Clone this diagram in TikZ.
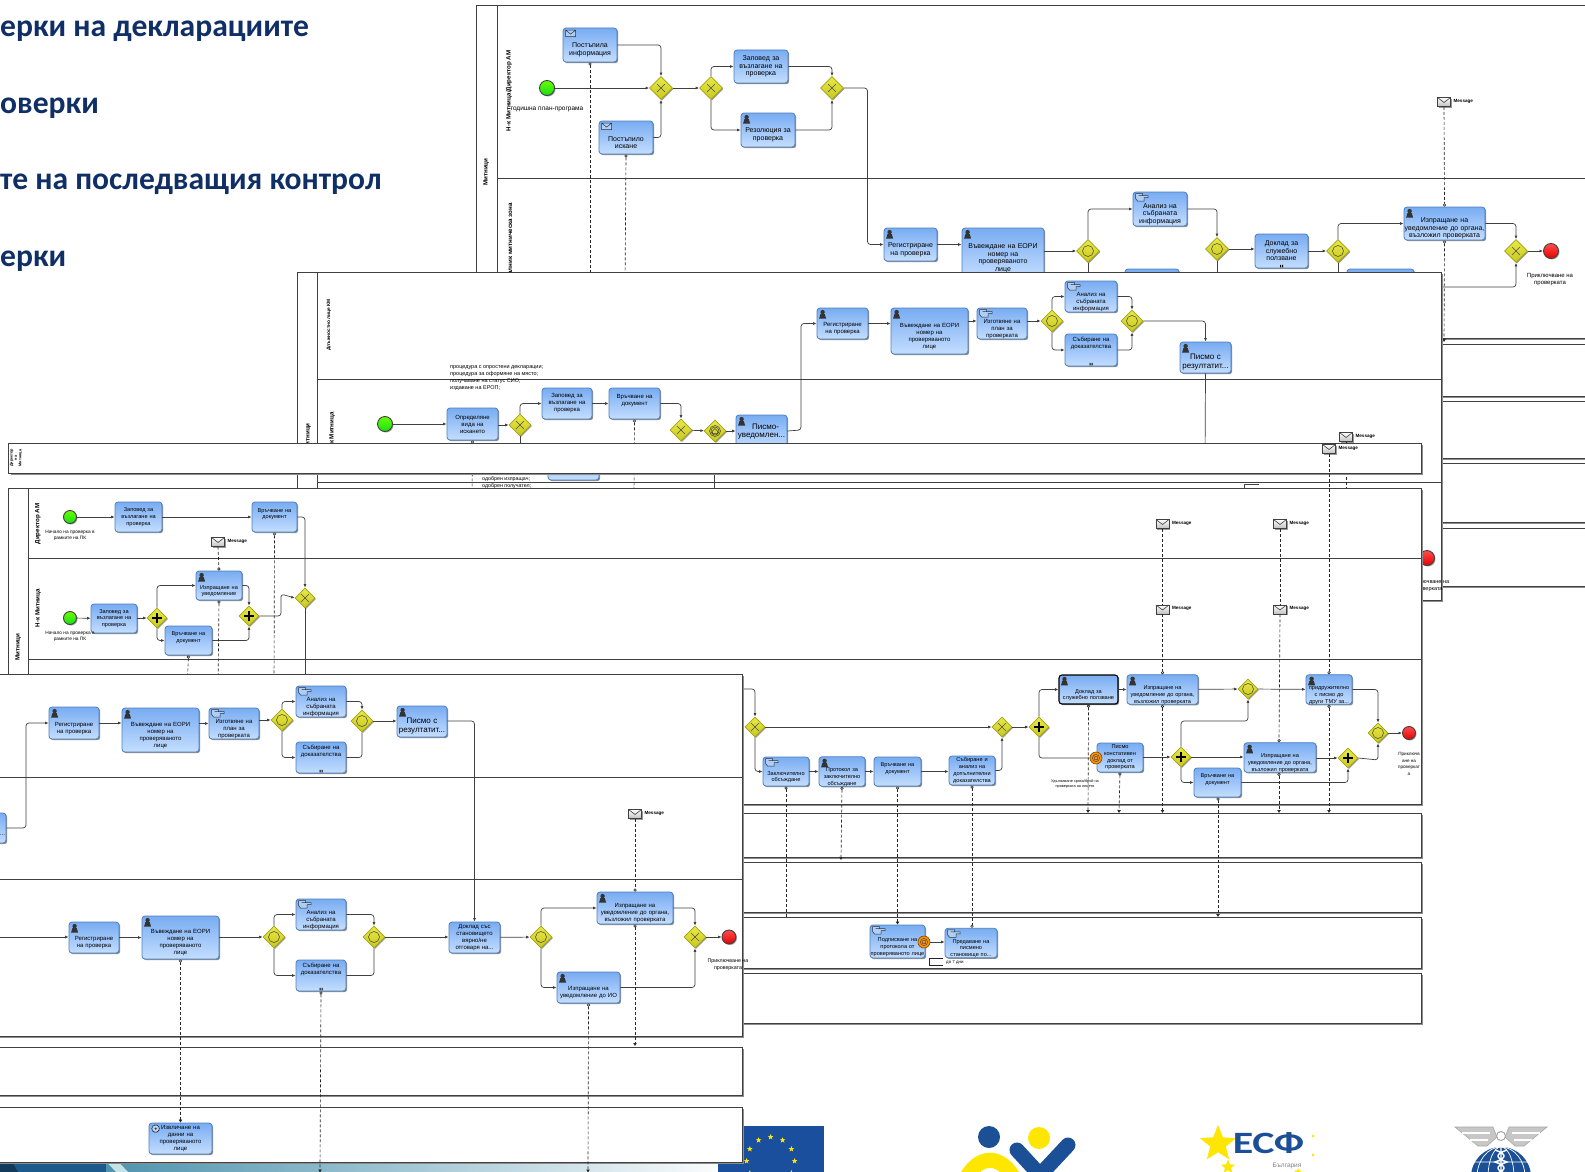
\documentclass[tikz,border=0pt]{standalone}
\usepackage{fontspec}
\setmainfont{Liberation Sans}
\newfontfamily\ttlfont{Carlito}
\usetikzlibrary{shapes.geometric,arrows.meta,shadows,calc}
\definecolor{taskT}{HTML}{78ACF2}
\definecolor{taskB}{HTML}{C4DEFF}
\definecolor{taskL}{HTML}{4E7FBE}
\definecolor{gwT}{HTML}{E9E945}
\definecolor{gwB}{HTML}{C8C81E}
\definecolor{gwL}{HTML}{A3A312}
\definecolor{ln}{HTML}{404040}
\definecolor{navy}{HTML}{0F2F66}
\definecolor{eublue}{HTML}{1A4F9E}
\definecolor{logoy}{HTML}{FFE600}
\definecolor{logob}{HTML}{1B4F96}
\definecolor{stripd}{HTML}{1D5A8C}
\definecolor{stripm}{HTML}{4E93AE}
\definecolor{stripl}{HTML}{C4E2E8}
\newcommand\tf{\fontsize{7}{7.6}\selectfont}
\newcommand\gs{23}
\newcommand\lo{\rule{0pt}{15pt}}
\newcommand\bl{\mbox{}}
\tikzset{
  x=1pt,y=-1pt,
  poolbox/.style={draw=ln,fill=white,line width=.8pt,general shadow={fill=black!45,shadow xshift=2pt,shadow yshift=-2pt}},
  lanel/.style={draw=ln,line width=.7pt},
  taskbox/.style={rectangle,rounded corners=3pt,draw=taskL,line width=.8pt,top color=taskT,bottom color=taskB,inner sep=0pt,align=center,text=black,font=\tf,general shadow={fill=black!45,shadow xshift=1.2pt,shadow yshift=-1.2pt}},
  darkbox/.style={draw=black,line width=1.1pt},
  bigtxt/.style={font=\fontsize{8}{8.8}\selectfont},
  gwbox/.style={diamond,aspect=1,inner sep=0pt,draw=gwL,line width=.7pt,top color=gwT,bottom color=gwB,general shadow={fill=black!40,shadow xshift=1pt,shadow yshift=-1pt}},
  startev/.style={circle,inner sep=0pt,draw=ln,line width=.9pt,top color=green!60!yellow,bottom color=green!85!black!90,general shadow={fill=black!35,shadow xshift=1pt,shadow yshift=-1pt}},
  endev/.style={circle,inner sep=0pt,draw=ln,line width=.9pt,top color=red!70,bottom color=red!90!black,general shadow={fill=black!35,shadow xshift=1pt,shadow yshift=-1pt}},
  timerev/.style={circle,inner sep=0pt,minimum size=12pt,draw=orange!50!black,line width=.6pt,fill=orange!85!yellow},
  flow/.style={draw=ln,line width=.7pt,rounded corners=3pt,arrows={-Latex[length=3.5pt,width=3pt]}},
  flowplain/.style={draw=ln,line width=.7pt,rounded corners=3pt},
  mflow/.style={draw=black!85,line width=.65pt,dash pattern=on 3pt off 2pt},
  mfa/.style={mflow,arrows={Circle[open,fill=white,length=3.2pt,width=3.2pt]-Latex[length=3pt,width=4pt]}},
  mfb/.style={mflow,arrows={Circle[open,fill=white,length=3.2pt,width=3.2pt]-}},
  mfc/.style={mflow,arrows={-Circle[open,fill=white,length=3.2pt,width=3.2pt]}},
  lanetxt/.style={rotate=90,font=\fontsize{6.2}{6.6}\selectfont\bfseries,inner sep=0pt,align=center},
  smalltxt/.style={font=\fontsize{6}{7}\selectfont,inner sep=0pt,align=center,text=black},
  tinytxt/.style={font=\fontsize{3.8}{5}\selectfont,inner sep=0pt,align=center,text=black},
  msglabel/.style={font=\fontsize{4.6}{5}\selectfont\bfseries,inner sep=0pt,anchor=west},
  envbox/.style={rectangle,inner sep=0pt,minimum width=13pt,minimum height=9pt,draw=ln,line width=.7pt,top color=white,bottom color=black!25,general shadow={fill=black!40,shadow xshift=1pt,shadow yshift=-1pt}},
  titletxt/.style={font=\ttlfont\bfseries\fontsize{31.6}{33}\selectfont,text=navy,inner sep=0pt,anchor=west},
  starsm/.style={star,star points=5,star point ratio=2.4,fill=logoy,inner sep=0pt,minimum size=6pt},
}
\newcommand\tsk[7][]{%
  \pgfmathsetmacro\wa{#5-#3}\pgfmathsetmacro\ha{#6-#4}\pgfmathsetmacro\xa{(#3+#5)/2}\pgfmathsetmacro\ya{(#4+#6)/2}%
  \node[taskbox,#1,minimum width=\wa pt,minimum height=\ha pt,text width=\wa pt] (#2) at (\xa,\ya) {#7};}
\newcommand\gwx[3]{\node[gwbox,minimum size=\gs pt] (#1) at (#2,#3) {};
  \draw[black!70,line width=.5pt,shift={(#1)}] (-4,-4)--(4,4) (-4,4)--(4,-4);}
\newcommand\gwp[3]{\node[gwbox,minimum size=\gs pt] (#1) at (#2,#3) {};
  \draw[black,line width=1.4pt,shift={(#1)}] (-5,0)--(5,0) (0,-5)--(0,5);}
\newcommand\gwo[3]{\node[gwbox,minimum size=\gs pt] (#1) at (#2,#3) {};
  \draw[black!75,line width=.5pt,shift={(#1)}] (0,0) circle[radius=5.5pt];}
\newcommand\gwe[3]{\node[gwbox,minimum size=\gs pt] (#1) at (#2,#3) {};
  \draw[black!75,line width=.5pt,shift={(#1)}] (0,0) circle[radius=5.5pt] (0,0) circle[radius=4pt] (-2.5,0)--(0,-2.5)--(2.5,0)--(2.5,2.5)--(-2.5,2.5)--cycle;}
\newcommand\usr[1]{\fill[black!80,shift={(#1.north west)}] (6,4.5) circle[radius=2.2pt] (2.5,11)--(3.8,6.5)--(8.2,6.5)--(9.5,11)--cycle;}
\newcommand\envi[1]{\draw[black!80,line width=.5pt,fill=taskT!60!white,shift={(#1.north west)}] (3,2.5) rectangle (13,9) (3,2.5)--(8,6.5)--(13,2.5);}
\newcommand\hnd[1]{\draw[black!80,line width=.55pt,fill=taskT!60!white,shift={(#1.north west)}] (3,2)--(10,2)--(10,4)--(15.5,4)--(15.5,6)--(11.5,6)--(11.5,9.5)--(5,9.5)--(3,7)--cycle (6,4)--(15.5,4);}
\newcommand\gr[1]{\draw[black!80,line width=.9pt,dash pattern=on 1pt off .6pt,fill=taskT!50!white,shift={(#1.north west)}] (7,6) circle[radius=3.8pt];
  \fill[black!80,shift={(#1.north west)}] (7,6) circle[radius=1.2pt];}
\newcommand\mrk[1]{\fill[black,shift={(#1.south)}] (-1.5,-3.5) rectangle (-.5,-1) (.5,-3.5) rectangle (1.5,-1);}
\newcommand\msg[3]{\node[envbox] (#1) at (#2,#3) {};
  \draw[ln,line width=.6pt,shift={(#1)}] (-6.5,-4.5)--(0,.5)--(6.5,-4.5);
  \node[msglabel] (#1t) at ($(#1.east)+(2.5,-1)$) {Message};}
\newcommand\tmr[3]{\node[timerev] (#1) at (#2,#3) {};
  \draw[black!70,line width=.5pt,shift={(#1)}] (0,0) circle[radius=3.6pt] (-1.5,-1.5) rectangle (1.5,1.5);}
\begin{document}
\begin{tikzpicture}
\path[use as bounding box,clip] (0,0) rectangle (1585,1172);
\fill[white] (0,0) rectangle (1585,1172);

% slide strip and logos
\shade[left color=stripm,middle color=stripl,right color=white] (105,1155) rectangle (735,1172);
\fill[stripd] (0,1155) rectangle (106,1172);
\fill[black!35!stripd] (0,1155)--(8,1155)--(18,1172)--(0,1172)--cycle;
\fill[stripl] (100,1155)--(112,1155)--(128,1172)--(116,1172)--cycle;
\fill[eublue] (718,1126) rectangle (824,1180);
\foreach \a [count=\i] in {0,30,...,330}{\node[starsm] (fs\i) at ($(770.6,1161)+(\a:24)$) {};}
\fill[logob] (989,1137) circle[radius=11pt];
\fill[logoy] (1039,1138) circle[radius=11pt];
\draw[line width=15pt,line cap=round,line join=round,draw=logob] (1017,1150)--(1040,1175)--(1068,1145);
\draw[line width=15pt,draw=logoy] (964,1182) .. controls (978,1153) and (1002,1153) .. (1016,1182);
\node[star,star points=5,star point ratio=2.3,fill=logoy,inner sep=0pt,minimum size=38pt] (esfstar) at (1218,1144) {};
\node[star,star points=5,star point ratio=2.3,fill=logoy,inner sep=0pt,minimum size=15pt] (esfstar2) at (1228,1167) {};
\fill[logoy] (1313,1136) circle[radius=1.5pt] (1313,1155) circle[radius=1.5pt];
\node[star,star points=5,star point ratio=2.3,fill=logoy,inner sep=0pt,minimum size=8pt] (esfstar3) at (1298,1172) {};
\node[font=\ttlfont\bfseries\fontsize{31}{31}\selectfont,text=logob,inner sep=0pt] (esf) at (1268.5,1143) {\scalebox{1.35}[1]{ЕСФ}};
\node[font=\fontsize{6.5}{7}\selectfont,text=black!50,inner sep=0pt] (esfb) at (1287,1166) {България};
\filldraw[fill=black!22,draw=black!35,line width=.6pt] (1455,1127)--(1493,1127)--(1497,1137)--(1487,1146)--(1478,1146)--cycle;
\filldraw[fill=black!22,draw=black!35,line width=.6pt] (1547,1127)--(1509,1127)--(1505,1137)--(1515,1146)--(1524,1146)--cycle;
\draw[white,line width=1.3pt] (1462,1133)--(1490,1133) (1470,1140)--(1488,1140) (1540,1133)--(1512,1133) (1532,1140)--(1514,1140);
\draw[black!35,line width=1pt,fill=white] (1501,1136) circle[radius=4.5pt];
\fill[logob] (1501,1177) circle[radius=30pt];
\draw[white,line width=.7pt] (1472,1162)--(1530,1162) (1501,1177) ellipse[x radius=13pt,y radius=30pt] (1501,1177) ellipse[x radius=24pt,y radius=30pt];
\draw[white,line width=1.4pt] (1501,1141)--(1501,1172) (1495,1150) .. controls (1507,1154) and (1507,1158) .. (1495,1162) .. controls (1507,1166) and (1507,1170) .. (1495,1174) (1507,1150) .. controls (1495,1154) and (1495,1158) .. (1507,1162) .. controls (1495,1166) and (1495,1170) .. (1507,1174);

% title lines
\node[titletxt] (h1) at (0,31) {ерки на декларациите};
\node[titletxt] (h2) at (0,108) {оверки};
\node[titletxt] (h3) at (0,184) {те на последващия контрол};
\node[titletxt] (h4) at (0,261) {ерки};

%%%%%%%%%%%%%%%% window A
\path[poolbox] (476.5,5) rectangle (1640,338);
\path[poolbox] (476.5,344) rectangle (1640,396);
\path[poolbox] (476.5,401) rectangle (1640,458);
\path[poolbox] (476.5,463) rectangle (1640,522);
\path[poolbox] (476.5,528) rectangle (1640,586);
\draw[lanel] (497.5,5)--(497.5,338) (497.5,178)--(1640,178);
\node[lanetxt] (al1) at (509,91) {Н-к Митница/Директор АМ};
\node[lanetxt] (al0) at (486,172) {Митници};
\node[lanetxt,anchor=east] (al2) at (510,203) {Началник митническа зона};
\renewcommand\tf{\fontsize{7}{7.6}\selectfont}
\renewcommand\gs{23}
\tsk{at1}{563}{28}{617}{62}{\lo Постъпила\\информация}\envi{at1}
\tsk{at2}{599}{121}{653}{154}{\lo Постъпило\\искане}\envi{at2}
\tsk{at3}{734}{50}{788}{83}{Заповед за\\възлагане на\\проверка}
\tsk{at4}{741}{113}{795}{147}{\lo Резолюция за\\проверка}\usr{at4}
\tsk{at5}{884}{228}{937}{261}{\lo Регистриране\\на проверка}\usr{at5}
\tsk{at6}{962}{228}{1044}{278}{\lo Въвеждане на ЕОРИ\\номер на\\проверяваното\\лице}\usr{at6}
\tsk{at7}{1133}{192}{1187}{226}{\lo Анализ на\\събраната\\информация}\hnd{at7}
\tsk{at8}{1255}{234}{1308}{268}{Доклад за\\служебно\\ползване}\mrk{at8}
\tsk{at9}{1404}{207}{1485}{240}{\lo Изпращане на\\уведомление до органа,\\възложил проверката}\usr{at9}
\tsk{at10}{1125}{269}{1179}{300}{}
\tsk{at11}{1347}{269}{1414}{300}{}
\node[startev,minimum size=15pt] (as) at (547,88) {};
\node[smalltxt,font=\fontsize{6.5}{7}\selectfont] (ast) at (547,109) {годишна план-програма};
\gwx{ag1}{661}{88}\gwx{ag2}{711}{88}\gwx{ag3}{832}{88}
\gwo{ag4}{1088}{251}\gwo{ag5}{1217}{249}\gwo{ag6}{1338}{251}\gwx{ag7}{1516}{251}
\node[endev,minimum size=15pt] (ae) at (1551,251) {};
\node[smalltxt] (aet) at (1550,280) {Приключване на\\проверката};
\msg{am}{1444}{102}
\coordinate (aa1) at (590,290);\coordinate (aa2) at (625,290);
\coordinate (aa3) at (1444,342);\coordinate (aa4) at (1430,287);
\draw[flow] (as)--(ag1);
\draw[flow] (at1.east)-|(ag1.north);
\draw[flow] (at2.east)-|(ag1.south);
\draw[flow] (ag1)--(ag2);
\draw[flow] (ag2.north)|-(at3.west);
\draw[flow] (ag2.south)|-(at4.west);
\draw[flow] (at3.east)-|(ag3.north);
\draw[flow] (at4.east)-|(ag3.south);
\draw[flow] (ag3.east)--(867.5,88)|-(at5.west);
\draw[flow] (at5)--(at6.west|-at5);
\draw[flow] (at6.east|-ag4)--(ag4.west);
\draw[flow] (ag4.north)|-(at7.west);
\draw[flow] (at7.east)-|(ag5.north);
\draw[flow] (ag5)--(at8.west|-ag5);
\draw[flow] (at8.east|-ag6)--(ag6.west);
\draw[flow] (ag6.north)|-(at9.west);
\draw[flow] (at9.east)-|(ag7.north);
\draw[flow] (ag7)--(ae);
\draw[flow] (aa4)-|(ag7.south);
\draw[flowplain] (ag4.south)--++(0,20) (ag5.south)--++(0,20) (ag6.south)--++(0,20);
\draw[mfb] (at1.south)--(aa1);
\draw[mfb] (at2.south)--(aa2);
\draw[mfc] (am.south)--(at9.north);
\draw[mfa] (at9.south)--(aa3);

%%%%%%%%%%%%%%%% window B
\path[poolbox] (297,272) rectangle (1441,600);
\draw[lanel] (317.5,272)--(317.5,600) (317.5,379)--(1441,379) (317.5,482)--(1441,482) (714,470)--(714,490) (1244,488)--(1244,484)--(1259,484);
\node[lanetxt,font=\fontsize{4.8}{5}\selectfont\bfseries] (bl1) at (329,325) {Длъжностно лице КМ};
\node[lanetxt,anchor=east] (bl2) at (332,412) {Н-к Митница};
\node[lanetxt,anchor=east] (bl0) at (308,423) {Митници};
\renewcommand\tf{\fontsize{6}{7}\selectfont}
\renewcommand\gs{22}
\node[smalltxt,anchor=north west,align=left,font=\fontsize{5.5}{7.1}\selectfont] (bnote) at (450,365) {процедура с опростени декларации;\\процедура за оформяне на място;\\получаване на статус СИО;\\издаване на ЕРОП;};
\node[smalltxt,anchor=west,font=\fontsize{5.3}{6}\selectfont] (bn1) at (482,479) {одобрен изпращач;};
\node[smalltxt,anchor=west,font=\fontsize{5.3}{6}\selectfont] (bn2) at (482,486.5) {одобрен получател;};
\tsk{bt1}{447}{408}{498}{440}{Определяне\\вида на\\искането}
\tsk{bt2}{542}{388}{592}{419}{Заповед за\\възлагане на\\проверка}
\tsk{bt3}{609}{388}{660}{419}{Връчване на\\документ\\\bl}
\tsk[bigtxt]{bt4}{736}{415}{787}{448}{\hspace*{8pt}Писмо-\\уведомлен...}\usr{bt4}
\tsk{bt5}{817}{308}{868}{339}{\lo Регистриране\\на проверка}\usr{bt5}
\tsk{bt6}{891}{308}{968}{354}{\lo Въвеждане на ЕОРИ\\номер на\\проверяваното\\лице}\usr{bt6}
\tsk{bt7}{977}{308}{1027}{339}{\lo Изготвяне на\\план за\\проверката}\hnd{bt7}
\tsk{bt8}{1065}{281}{1117}{312}{\lo Анализ на\\събраната\\информация}\hnd{bt8}
\tsk{bt9}{1065}{334}{1117}{366}{Събиране на\\доказателства\\\bl\\\bl}\mrk{bt9}
\tsk[bigtxt]{bt10}{1180}{342}{1231}{373}{\lo Писмо с\\резултатит...}\usr{bt10}
\tsk{bt11}{548}{450}{599}{480}{}
\node[startev,minimum size=15pt] (bs) at (385,424) {};
\gwx{bg1}{520}{425}\gwx{bg2}{681}{430}\gwe{bg3}{715}{431}
\gwo{bg4}{1052}{321}\gwo{bg5}{1132}{321}
\node[endev,minimum size=15pt] (be) at (1427,558) {};
\node[smalltxt,font=\fontsize{5.5}{7}\selectfont] (bet) at (1428,585.5) {Приключване на\\проверката};
\msg{bm}{1346}{437}
\coordinate (bb1) at (472,495);\coordinate (bb2) at (634,495);\coordinate (bb3) at (1346,490);
\coordinate (bb4) at (1205,460);\coordinate (bb5) at (520,452);
\draw[flow] (bs)--(bt1.west|-bs);
\draw[flow] (bt1.east|-bg1)--(bg1.west);
\draw[flow] (bg1.north)|-(bt2.west);
\draw[flowplain] (bg1.south)--(bb5);
\draw[flow] (bt2)--(bt3);
\draw[flow] (bt3.east)-|(bg2.north);
\draw[flow] (bg2)--(bg3);
\draw[flow] (bg3)--(bt4.west|-bg3);
\draw[flow] (bt4.east|-bg3)--(801,430)|-(bt5.west);
\draw[flow] (bt5)--(bt6.west|-bt5);
\draw[flow] (bt6.east|-bg4)--(bt7.west|-bg4);
\draw[flow] (bt7.east|-bg4)--(bg4.west);
\draw[flow] (bg4.north)|-(bt8.west);
\draw[flow] (bg4.south)|-(bt9.west);
\draw[flow] (bt8.east)-|(bg5.north);
\draw[flow] (bt9.east)-|(bg5.south);
\draw[flow] (bg5.east)-|(bt10.north);
\draw[flowplain] (bt10.south)--(bb4);
\draw[mfb] (bt1.south)--(bb1);
\draw[mfb] (bt3.south)--(bb2);
\draw[mflow] (bm.south)--(bb3);

%%%%%%%%%%%%%%%% window C
\path[poolbox] (8.7,443) rectangle (1421,473);
\node[lanetxt,font=\fontsize{3.8}{4.4}\selectfont\bfseries] (cl) at (16,458) {Директор\\на\\Митница};
\msg{cm}{1329}{449}

%%%%%%%%%%%%%%%% window D
\path[poolbox] (8.7,488) rectangle (1421,804);
\path[poolbox] (8.7,813) rectangle (1421,857);
\path[poolbox] (8.7,862) rectangle (1421,912);
\path[poolbox] (8.7,917) rectangle (1421,968);
\path[poolbox] (8.7,973) rectangle (1421,1023);
\draw[lanel] (28,488)--(28,804) (28,558)--(1421,558) (28,659)--(1421,659);
\node[lanetxt] (dl1) at (38,524) {Директор АМ};
\node[lanetxt] (dl2) at (38,608) {Н-к Митница};
\node[lanetxt] (dl0) at (18,647) {Митници};
\renewcommand\tf{\fontsize{5.6}{6.7}\selectfont}
\renewcommand\gs{20}
\tsk{dt1}{115}{502}{162}{532}{Заповед за\\възлагане на\\проверка}
\tsk{dt2}{252}{502}{297}{532}{Връчване на\\документ\\\bl}
\tsk{dt3}{91}{604}{137}{633}{Заповед за\\възлагане на\\проверка}
\tsk{dt4}{196}{571}{242}{600}{\lo Изпращане на\\уведомление}\usr{dt4}
\tsk{dt5}{165}{626}{212}{655}{Връчване на\\документ\\\bl}
\tsk{dt6}{763}{757}{809}{786}{\lo Заключително\\обсъждане}\hnd{dt6}
\tsk{dt7}{819}{757}{865}{786}{\lo Протокол за\\заключително\\обсъждане}\usr{dt7}
\tsk{dt8}{874}{757}{921}{786}{Връчване на\\документ\\\bl}
\tsk{dt9}{949}{756}{995}{785}{Събиране и\\анализ на\\допълнителни\\доказателства}
\tsk[darkbox]{dt10}{1059}{675}{1118}{704}{\lo Доклад за\\служебно ползване}\usr{dt10}
\tsk{dt11}{1127}{675}{1198}{704}{\lo Изпращане на\\уведомление до органа,\\възложил проверката}\usr{dt11}
\tsk{dt12}{1097}{743}{1143}{772}{Писмо\\констативен\\доклад от\\проверката}
\tsk{dt13}{1244}{743}{1316}{772}{\lo Изпращане на\\уведомление до органа,\\възложил проверката}\usr{dt13}
\tsk{dt14}{1194}{768}{1241}{797}{Връчване на\\документ\\\bl}
\tsk{dt15}{1306}{675}{1352}{704}{\lo придружително\\с писмо до\\други ТМУ за...}\usr{dt15}
\tsk{dt16}{870}{925}{925}{958}{\lo Подписване на\\протокола от\\проверяваното лице}\hnd{dt16}
\tsk{dt17}{945}{929}{997}{957}{\lo Предаване на\\писмено\\становище по...}\hnd{dt17}
\node[startev,minimum size=13pt] (ds1) at (70,517) {};
\node[startev,minimum size=13pt] (ds2) at (70,618) {};
\node[tinytxt,font=\fontsize{4.8}{6.6}\selectfont] (ds1t) at (70,535.5) {Начало на проверка в\\рамките на ПК};
\node[tinytxt,font=\fontsize{4.8}{6.6}\selectfont] (ds2t) at (70,636.5) {Начало на проверка в\\рамките на ПК};
\gwp{dg1}{157}{618}\gwp{dg2}{249}{616}\gwx{dg3}{305}{598}
\gwx{dg4}{755}{727}\gwx{dg5}{1002}{727}\gwp{dg6}{1039}{727}
\gwo{dg7}{1248}{689}\gwp{dg8}{1181}{757}\gwp{dg9}{1348}{758}\gwo{dg10}{1378}{733}
\node[endev,minimum size=13pt] (de) at (1409,733) {};
\node[tinytxt,font=\fontsize{4.6}{6.5}\selectfont] (det) at (1409,764) {Приключв\\ане на\\проверкат\\а};
\node[tinytxt] (dtmt) at (1075,783.5) {Удължаване срока/брой на\\проверката на лицето};
\tmr{dtm1}{1096}{758}
\tmr{dtm2}{924}{942}
\node[tinytxt,font=\fontsize{4.4}{5}\selectfont,anchor=west] (d7) at (946,962) {до 7 дни};
\draw[line width=.6pt,black!85] (943,958)--(929,958)--(929,965)--(943,965);
\msg{dm1}{218}{542}
\msg{dm2}{1162.5}{524}\msg{dm3}{1162.5}{609.5}
\msg{dm4}{1280}{524}\msg{dm5}{1280}{609.5}
\coordinate (dIn) at (730,689);
\coordinate (dd1) at (218,690);\coordinate (dd2) at (187,690);\coordinate (dd3) at (274,690);
\coordinate (dd4) at (786,917);\coordinate (dd5) at (841,860);\coordinate (dd6) at (1088,813);
\coordinate (dd7) at (1119,813);\coordinate (dd8) at (1162.5,813);\coordinate (dd9) at (1279,813);
\coordinate (dd10) at (1329,813);\coordinate (dd11) at (1218,917);\coordinate (dd12) at (305,690);
\draw[flow] (ds1)--(dt1.west|-ds1);
\draw[flow] (dt1)--(dt2);
\draw[flow] (dt2.east)-|(dg3.north);
\draw[flow] (ds2)--(dt3);
\draw[flow] (dt3.east|-dg1)--(dg1.west);
\draw[flow] (dg1.north)|-(dt4.west);
\draw[flow] (dg1.south)|-(dt5.west);
\draw[flow] (dt4.east)-|(dg2.north);
\draw[flow] (dt5.east)-|(dg2.south);
\draw[flow] (dg2.east)--(281,616)--(281,594)--(dg3.west);
\draw[flowplain] (dg3.south)--(dd12);
\draw[flow] (dIn)-|(dg4.north);
\draw[flow] (dg4.east)--(dg5.west);
\draw[flow] (dg5)--(dg6);
\draw[flow] (dg4.south)|-(dt6.west);
\draw[flow] (dt6)--(dt7);
\draw[flow] (dt7)--(dt8);
\draw[flow] (dt8)--(dt9.west|-dt8);
\draw[flow] (dt9.east)-|(dg5.south);
\draw[flow] (dg6.north)|-(dt10.west);
\draw[flowplain] (dg6.south)|-(dtm1.west);
\draw[flow] (dt10)--(dt11);
\draw[flow] (dt11)--(dg7);
\draw[flow] (dt12.east|-dg8)--(dg8.west);
\draw[flow] (dg8.north)--(1181,721)-|(dg7.south);
\draw[flow] (dg8.east)--(dt13.west|-dg8);
\draw[flow] (dg8.south)|-(dt14.west);
\draw[flow] (dt13.east|-dg9)--(dg9.west);
\draw[flow] (dt14.east)-|(dg9.south);
\draw[flow] (dg7)--(dt15);
\draw[flow] (dt15.east)-|(dg10.north);
\draw[flow] (dg9.east)--(1378,760)--(dg10.south);
\draw[flow] (dg10)--(de);
\draw[flow] (dtm2)--(dt17.west|-dtm2);
\draw[mfb] (dt2.south)--(dd3);
\draw[mfc] (dm1.south)--(dt4.north);
\draw[mfb] (dt4.south)--(dd1);
\draw[mfb] (dt5.south)--(dd2);
\draw[mfb] (dt6.south)--(dd4);
\draw[mfa] (dt7.south)--(dd5);
\draw[mfa] (dt8.south)--(dt16.north-|dt8.south);
\draw[arrows={Circle[open,fill=white,length=3.2pt,width=3.2pt]-Circle[open,fill=white,length=3.2pt,width=3.2pt]},mflow] (dt9.south)--(dt9.south|-dt17.north);
\draw[mfa] (dt10.south)--(dd6);
\draw[mfa] (dt12.south)--(dd7);
\draw[mflow] (dm2.south)--(dm3.north);
\draw[mfc] (dm3.south)--(dt11.north-|dd8);
\draw[mfa] (dt11.south-|dd8)--(dd8);
\draw[mflow] (dm4.south)--(dm5.north);
\draw[mfc] (dm5.south)--(dt13.north-|dd9);
\draw[mfa] (dt13.south-|dd9)--(dd9);
\draw[mfc] (cm.south)--(dt15.north-|dd10);
\draw[mfa] (dt15.south-|dd10)--(dd10);
\draw[mfa] (dt14.south-|dd11)--(dd11);

%%%%%%%%%%%%%%%% window E
\path[poolbox] (-10,674) rectangle (742,1036);
\path[poolbox] (-10,1047) rectangle (742,1095);
\path[poolbox] (-10,1107) rectangle (742,1162);
\draw[lanel] (-10,777)--(742,777) (-10,879)--(742,879);
\renewcommand\tf{\fontsize{6}{7}\selectfont}
\renewcommand\gs{22}
\tsk[align=right]{et0}{-45}{813}{6}{843}{\bl\\\bl\\...\,}
\tsk{et1}{49}{707}{99}{739}{\lo Регистриране\\на проверка}\usr{et1}
\tsk{et2}{122}{708}{199}{752}{\lo Въвеждане на ЕОРИ\\номер на\\проверяваното\\лице}\usr{et2}
\tsk{et3}{209}{708}{259}{739}{\lo Изготвяне на\\план за\\проверката}\hnd{et3}
\tsk{et4}{296}{686}{346}{717}{\lo Анализ на\\събраната\\информация}\hnd{et4}
\tsk{et5}{296}{742}{346}{773}{Събиране на\\доказателства\\\bl\\\bl}\mrk{et5}
\tsk[bigtxt]{et6}{397}{706}{447}{737}{\lo Писмо с\\резултатит...}\usr{et6}
\tsk{et7}{69}{922}{119}{953}{\lo Регистриране\\на проверка}\usr{et7}
\tsk{et8}{142}{916}{219}{959}{\lo Въвеждане на ЕОРИ\\номер на\\проверяваното\\лице}\usr{et8}
\tsk{et9}{296}{899}{346}{930}{\lo Анализ на\\събраната\\информация}\hnd{et9}
\tsk{et10}{296}{960}{346}{991}{Събиране на\\доказателства\\\bl\\\bl}\mrk{et10}
\tsk{et11}{449}{922}{500}{953}{Доклад със\\становището\\вярно/не\\отговаря на...}
\tsk{et12}{597}{892}{673}{924}{\lo Изпращане на\\уведомление до органа,\\възложил проверката}\usr{et12}
\tsk{et13}{557}{972}{620}{1003}{\lo Изпращане на\\уведомление до ИО}\usr{et13}
\tsk{et14}{149}{1123}{212}{1154}{Извличане на\\данни на\\проверяваното\\лице}\gr{et14}
\gwo{eg1}{282}{720}\gwo{eg2}{362}{721}
\gwo{eg3}{274}{937}\gwo{eg4}{374}{937}\gwo{eg5}{541}{937}\gwx{eg6}{695}{937}
\node[endev,minimum size=14pt] (ee) at (729,937) {};
\node[smalltxt,font=\fontsize{5.3}{7}\selectfont] (eet) at (728,964.5) {Приключване на\\проверката};
\msg{em}{635}{814}
\coordinate (eIn) at (-10,937);\coordinate (ee1) at (635,1046);
\coordinate (ee2) at (588,1172.5);\coordinate (ee3) at (320,1172.5);
\draw[flow] (et0.east)--(26,828)|-(et1.west);
\draw[flow] (et1)--(et2.west|-et1);
\draw[flow] (et2.east|-et3)--(et3.west);
\draw[flow] (et3.east|-eg1)--(eg1.west);
\draw[flow] (eg1.north)|-(et4.west);
\draw[flow] (eg1.south)|-(et5.west);
\draw[flow] (et4.east)-|(eg2.north);
\draw[flowplain] (et5.east)-|(eg2.south);
\draw[flow] (eg2)--(et6.west|-eg2);
\draw[flow] (et6.east|-eg2)-|(et11.north);
\draw[flow] (eIn)--(et7.west|-eIn);
\draw[flow] (et7)--(et8.west|-et7);
\draw[flow] (et8.east|-eg3)--(eg3.west);
\draw[flow] (eg3.north)|-(et9.west);
\draw[flow] (eg3.south)|-(et10.west);
\draw[flow] (et9.east)-|(eg4.north);
\draw[flowplain] (et10.east)-|(eg4.south);
\draw[flow] (eg4)--(et11.west|-eg4);
\draw[flow] (et11)--(eg5);
\draw[flow] (eg5.north)|-(et12.west);
\draw[flow] (eg5.south)|-(et13.west);
\draw[flow] (et12.east)-|(eg6.north);
\draw[flow] (et13.east)-|(eg6.south);
\draw[flow] (eg6)--(ee);
\draw[mfc] (em.south)--(et12.north);
\draw[mfa] (et12.south)--(ee1);
\draw[mfa] (et13.south)--(ee2);
\draw[mfa] (et8.south)--(et14.north-|et8.south);
\draw[mfa] (et10.south)--(ee3);
\end{tikzpicture}
\end{document}
